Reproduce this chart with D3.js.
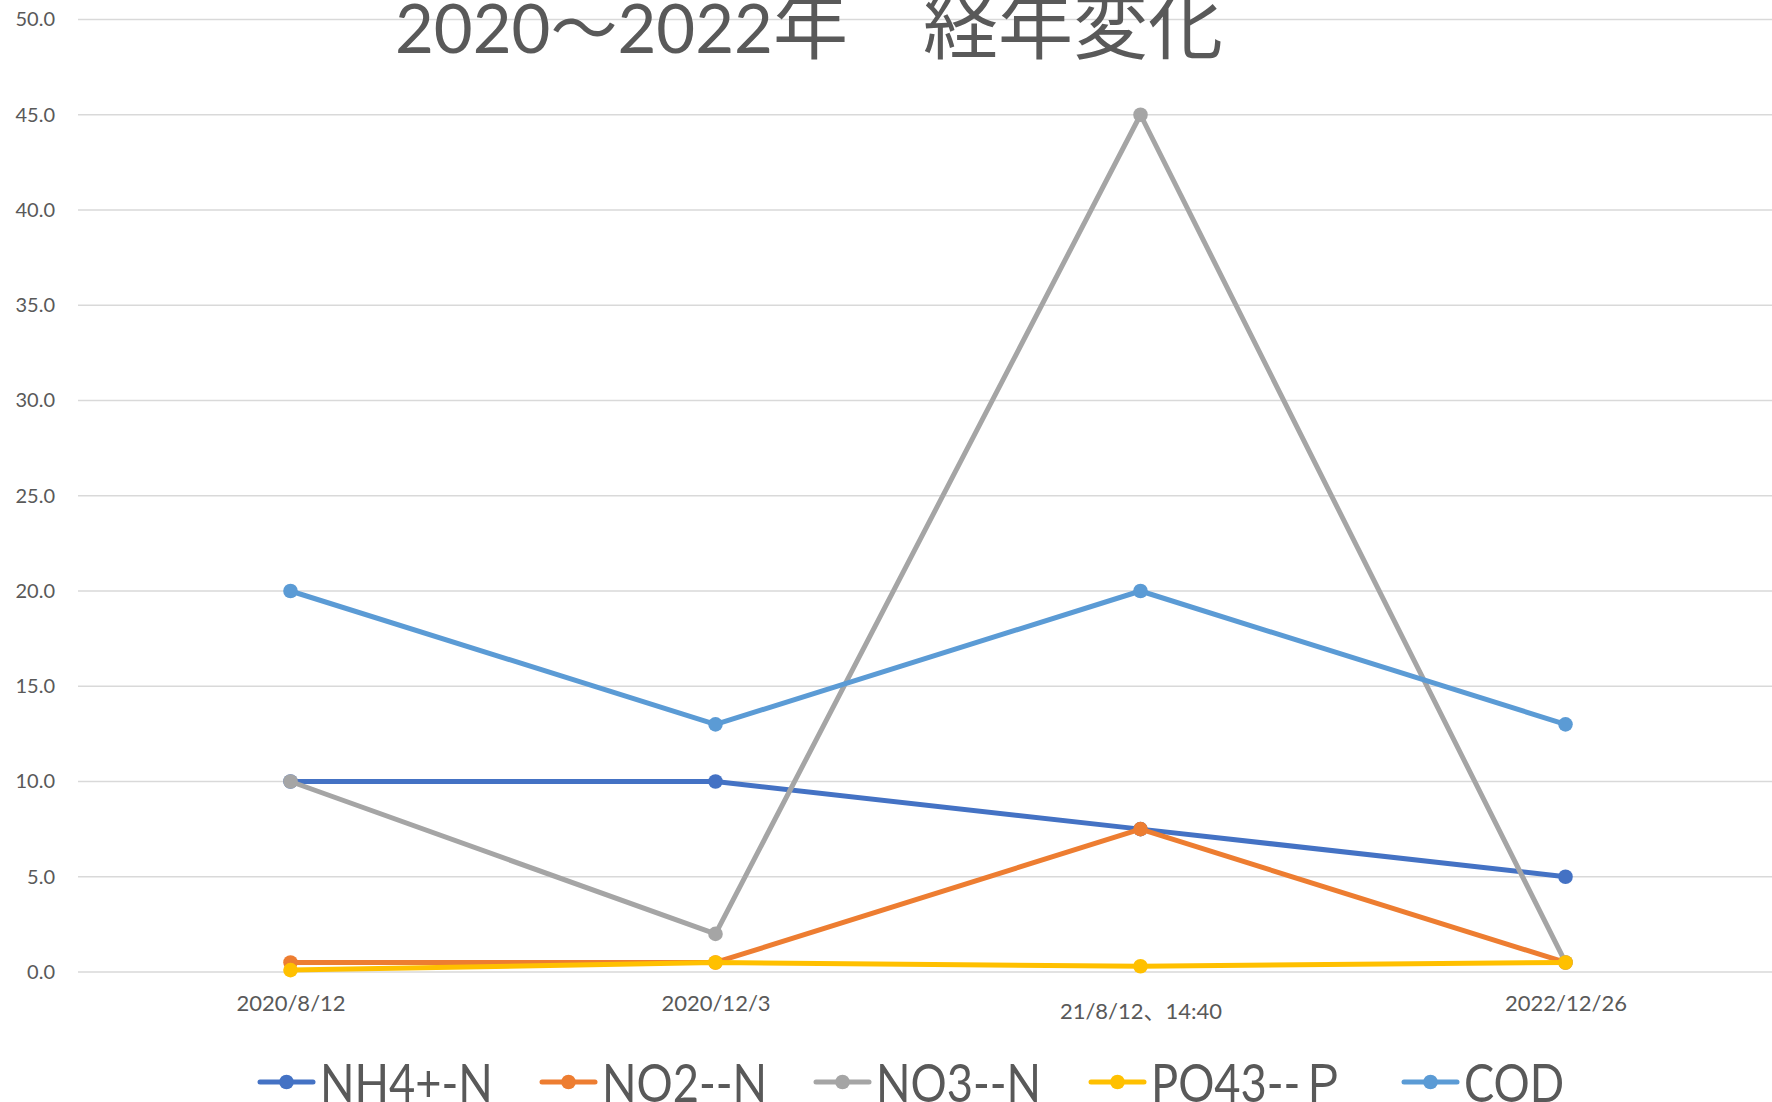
<!DOCTYPE html>
<html><head><meta charset="utf-8">
<script src="https://cdn.jsdelivr.net/npm/d3@7"></script>
<style>html,body{margin:0;padding:0;background:#fff;overflow:hidden}</style>
</head><body>
<svg id="c" width="1772" height="1102"></svg>
<script>
const categories = ["2020/8/12", "2020/12/3", "21/8/12、14:40", "2022/12/26"];
const seriesNames = ["NH4+-N", "NO2--N", "NO3--N", "PO43--Ｐ", "COD"];
const seriesColors = ["#4472C4", "#ED7D31", "#A5A5A5", "#FFC000", "#5B9BD5"];
const nh4 = [10, 10, 7.5, 5];
const no2 = [0.5, 0.5, 7.5, 0.5];
const no3 = [10, 2, 45, 0.5];
const po4 = [0.1, 0.5, 0.3, 0.5];
const cod = [20, 13, 20, 13];
const yTicks = [0, 5, 10, 15, 20, 25, 30, 35, 40, 45, 50];
const titleText = "2020～2022年　経年変化";

(function () {
const series = [nh4, no2, no3, po4, cod];
const svg = d3.select("#c");
const pLeft = 78, pRight = 1772, pTop = 19.5, pBottom = 972;

const x = d3.scalePoint().domain(categories).range([pLeft, pLeft + 1700]).padding(0.5);
const y = d3.scaleLinear().domain([0, 50]).range([pBottom, pTop]);

const font = "Lato, 'Noto Sans CJK JP', sans-serif";

svg.append("g").selectAll("line").data(yTicks).join("line")
  .attr("x1", pLeft).attr("x2", pRight)
  .attr("y1", d => y(d)).attr("y2", d => y(d))
  .attr("stroke", "#d9d9d9").attr("stroke-width", 1.7);

const yAxis = d3.axisLeft(y).tickValues(yTicks).tickFormat(d3.format(".1f")).tickSize(0).tickPadding(0);
const yg = svg.append("g").attr("transform", "translate(55,0)").call(yAxis);
yg.select(".domain").remove();
yg.selectAll("text").attr("fill", "#595959").style("font-family", font).style("font-size", "20px");

const xAxis = d3.axisBottom(x).tickSize(0).tickPadding(0);
const xg = svg.append("g").attr("transform", `translate(0,${pBottom})`).call(xAxis);
xg.select(".domain").remove();
xg.selectAll("text").attr("fill", "#595959")
  .style("font-family", font).style("font-size", "22px")
  .attr("dy", null)
  .attr("y", (d, i) => i === 2 ? 47 : 39);

const line = d3.line().x((d, i) => x(categories[i])).y(d => y(d));
series.forEach((s, k) => {
  const g = svg.append("g");
  g.append("path").datum(s).attr("d", line).attr("fill", "none")
    .attr("stroke", seriesColors[k]).attr("stroke-width", 5).attr("stroke-linejoin", "round").attr("stroke-linecap", "round");
  g.selectAll("circle").data(s).join("circle")
    .attr("cx", (d, i) => x(categories[i])).attr("cy", d => y(d)).attr("r", 7.3)
    .attr("fill", seriesColors[k]);
});

const cut = titleText.indexOf("年");
const t1 = svg.append("text").attr("x", 395).attr("y", 53)
  .attr("fill", "#595959").style("font-family", font).style("font-size", "67px").text(titleText.slice(0, cut));
const w1 = t1.node().getComputedTextLength();
svg.append("text").attr("x", 395 + w1).attr("y", 53)
  .attr("fill", "#595959").style("font-family", "'Noto Sans CJK JP', sans-serif").style("font-size", "75px")
  .text(titleText.slice(cut));

const legX = [260, 542, 816, 1091, 1404];
seriesNames.forEach((n, k) => {
  const g = svg.append("g").attr("transform", `translate(${legX[k]},1082)`);
  g.append("line").attr("x1", 0).attr("x2", 53).attr("y1", 0).attr("y2", 0)
    .attr("stroke", seriesColors[k]).attr("stroke-width", 5).attr("stroke-linecap", "round");
  g.append("circle").attr("cx", 26.5).attr("cy", 0).attr("r", 7.3).attr("fill", seriesColors[k]);
  g.append("text").attr("transform", "translate(60,20) scale(0.87,1)").attr("fill", "#595959")
    .style("font-family", font).style("font-size", "52px").text(n);
});
})();
</script>
</body></html>
